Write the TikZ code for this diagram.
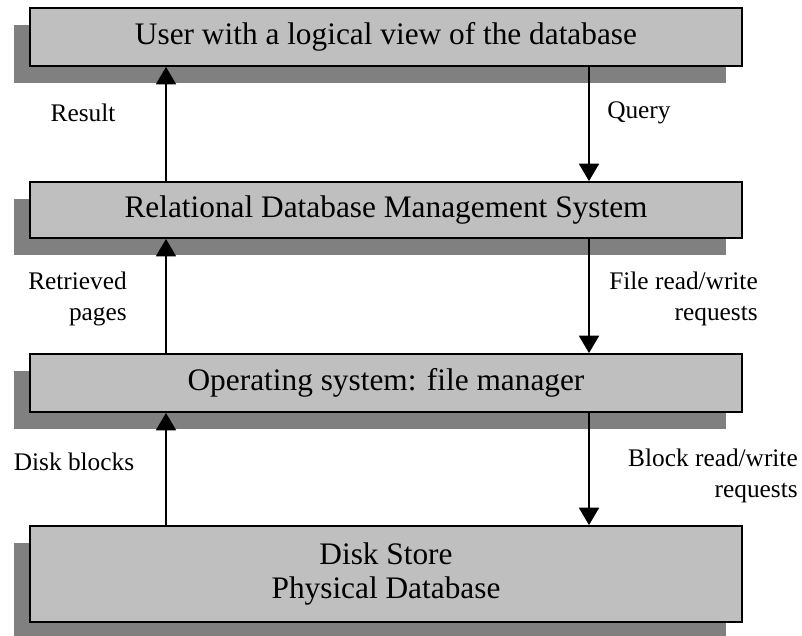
\documentclass[tikz,border=0pt]{standalone}
\usepackage{fontspec}
\setmainfont{Liberation Serif}
\usetikzlibrary{arrows.meta,shadows}

\begin{document}
\begin{tikzpicture}[x=0.75pt,y=-0.75pt,
    layer/.style={draw, line width=1.4pt, fill=black!25, minimum width=534pt,
        minimum height=43.5pt, inner sep=0pt, font=\fontsize{23.5}{25}\selectfont,
        drop shadow={shadow xshift=-12pt, shadow yshift=-12.75pt, opacity=1, fill=black!50}},
    flow/.style={line width=1.2pt, -{Triangle[length=13pt,width=15pt]}},
    lbl/.style={inner sep=0pt, font=\fontsize{19}{23.5}\selectfont}]
    \useasboundingbox (0,0) rectangle (802,635);

    % Layers, top to bottom
    \node[layer] (user) at (386,37) {User with a logical view of the database};
    \node[layer, minimum height=42pt] (rdbms) at (386,210) {Relational Database Management System};
    \node[layer] (os) at (386,383) {Operating system: file manager};
    \node[layer, minimum height=72pt, align=center] (disk) at (386,574) {Disk Store\\Physical Database};

    % Arrow columns: answers go up on the left, requests go down on the right
    \coordinate (up) at (166,0);
    \coordinate (down) at (589,0);

    \draw[flow] (rdbms.north -| up) -- (user.south -| up);
    \draw[flow] (user.south -| down) -- (rdbms.north -| down);
    \draw[flow] (os.north -| up) -- (rdbms.south -| up);
    \draw[flow] (rdbms.south -| down) -- (os.north -| down);
    \draw[flow] (disk.north -| up) -- (os.south -| up);
    \draw[flow] (os.south -| down) -- (disk.north -| down);

    % Labels
    \node[lbl] (result) at (83,113) {Result};
    \node[lbl, anchor=west] (query) at (607,113) {Query};
    \node[lbl, anchor=east, align=right] (pages) at (127,299) {Retrieved\\pages};
    \node[lbl, anchor=east, align=right] (filereq) at (758,299) {File read/write\\requests};
    \node[lbl] (blocks) at (74,462) {Disk blocks};
    \node[lbl, anchor=east, align=right] (blockreq) at (798,476) {Block read/write\\requests};
\end{tikzpicture}
\end{document}
